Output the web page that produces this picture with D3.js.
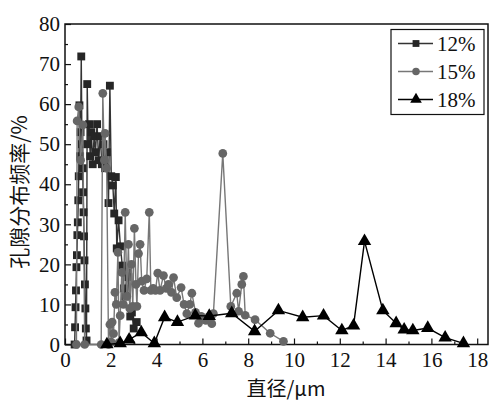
<!DOCTYPE html>
<html>
<head>
<meta charset="utf-8">
<script src="https://cdn.jsdelivr.net/npm/d3@7"></script>
<style>
  body { margin: 0; background: #fff; }
  svg text { font-family: "Liberation Serif", "Noto Sans CJK SC", serif; }
</style>
</head>
<body>
<div id="chart"></div>
<script>
// series values (diameter in um, frequency in %)
var x12 = [0.42,0.44,0.46,0.48,0.50,0.52,0.54,0.56,0.58,0.60,0.63,0.66,0.68,0.71,0.74,0.77,0.79,0.81,0.83,0.85,0.87,0.89,0.91,0.94,0.97,1.01,1.05,1.10,1.15,1.21,1.27,1.33,1.40,1.47,1.54,1.61,1.68,1.75,1.83,1.90,1.96,2.02,2.09,2.15,2.22,2.26,2.34,2.42,2.50,2.57,2.63,2.70,2.77,2.85,2.92,3.00,3.13];
var y12 = [0,4.3,9.3,13.5,19.3,22.3,27.3,30.5,36,42,59.7,47,53,71.9,50,44,38,33,27,21,15,9,4,1,65,50,55,47,53,45,52,48,55,46,52,45,50,44,48,35.3,64.6,42,39.7,32.7,41.8,24,31,24.5,19.7,14,12,18,16.8,7,8,4,5.6];

var x15 = [0.50,0.53,0.60,0.68,0.78,0.86,1.58,1.65,1.72,1.75,1.82,1.90,1.96,2.02,2.06,2.12,2.18,2.24,2.31,2.36,2.41,2.48,2.55,2.63,2.70,2.77,2.83,2.90,2.96,3.03,3.10,3.14,3.21,3.28,3.35,3.45,3.57,3.68,3.75,3.85,3.95,4.05,4.15,4.30,4.42,4.52,4.65,4.74,4.88,5.07,5.20,5.32,5.45,5.54,5.70,5.83,5.95,6.15,6.30,6.41,6.48,6.89,7.24,7.50,7.58,7.72,7.79,7.87,8.30,8.96,9.54];
var y15 = [0,55.8,59.3,46,54.8,0,0,62.7,46,52.7,44,0,5,0.6,5.6,2.7,13,10,23,0.5,7.2,18,10,33,12,25,9,20,9.5,29,15,9.5,22.7,25,15.8,13.5,16.4,33,13.5,14,13.5,17.8,13.5,17.2,14,15,13,16.7,11.7,14.2,10,7.7,10,12.8,8,5.3,7,6,7,5.2,7.7,47.7,9.5,12.8,8.3,15,17,7.3,6.2,2.8,0.8];

var x18 = [1.83,2.41,2.80,3.33,3.90,4.35,4.91,5.69,6.30,7.28,8.28,9.32,10.38,11.29,12.09,12.60,13.08,13.88,14.46,14.81,15.19,15.84,16.60,17.40];
var y18 = [0,0.3,1.2,3,0.3,6.8,5.6,7.2,7.1,7.8,3.3,8.5,6.8,7.2,3.5,4.7,25.8,8.5,5.3,3.7,3.5,4.1,1.7,0.3];

var seriesNames = ["12%", "15%", "18%"];
var xTicks = [0, 2, 4, 6, 8, 10, 12, 14, 16, 18];
var yTicks = [0, 10, 20, 30, 40, 50, 60, 70, 80];
var xLabel = "直径/μm";
var yLabel = "孔隙分布频率/%";

var width = 489, height = 401;
var pLeft = 65, pRight = 488, pTop = 24, pBottom = 344.5;

var svg = d3.select("#chart").append("svg")
    .attr("width", width)
    .attr("height", height);

var x = d3.scaleLinear().domain([0, (pRight - pLeft) / 22.9]).range([pLeft, pRight]);
var y = d3.scaleLinear().domain([0, 80]).range([pBottom, pTop]);

// minor ticks first (no labels)
svg.append("g")
    .attr("transform", "translate(0," + pBottom + ")")
    .call(d3.axisBottom(x).tickValues(d3.range(1, 19, 2)).tickSizeInner(-3).tickSizeOuter(0).tickFormat(""))
    .call(function (g) { g.select(".domain").remove(); });
svg.append("g")
    .attr("transform", "translate(" + pLeft + ",0)")
    .call(d3.axisLeft(y).tickValues(d3.range(5, 80, 10)).tickSizeInner(-3).tickSizeOuter(0).tickFormat(""))
    .call(function (g) { g.select(".domain").remove(); });

// major ticks with labels
var xAxis = svg.append("g")
    .attr("transform", "translate(0," + pBottom + ")")
    .call(d3.axisBottom(x).tickValues(xTicks).tickSizeInner(-6).tickSizeOuter(0).tickPadding(8));
xAxis.select(".domain").remove();
xAxis.selectAll("text").attr("font-size", 21).attr("fill", "#111").style("font-family", "Liberation Serif");

var yAxis = svg.append("g")
    .attr("transform", "translate(" + pLeft + ",0)")
    .call(d3.axisLeft(y).tickValues(yTicks).tickSizeInner(-6).tickSizeOuter(0).tickPadding(5));
yAxis.select(".domain").remove();
yAxis.selectAll("text").attr("font-size", 21).attr("fill", "#111").style("font-family", "Liberation Serif");

svg.selectAll(".tick line").attr("stroke", "#111").attr("stroke-width", 1.2);

// frame
svg.append("rect")
    .attr("x", pLeft).attr("y", pTop)
    .attr("width", pRight - pLeft).attr("height", pBottom - pTop)
    .attr("fill", "none").attr("stroke", "#111").attr("stroke-width", 1.5);

var line = d3.line().x(function (d) { return x(d[0]); }).y(function (d) { return y(d[1]); });

var series = [
    { name: seriesNames[0], data: d3.zip(x12, y12), color: "#262626", line: "#333", shape: d3.symbolSquare, size: 62 },
    { name: seriesNames[1], data: d3.zip(x15, y15), color: "#666", line: "#777", shape: d3.symbolCircle, size: 60 },
    { name: seriesNames[2], data: d3.zip(x18, y18), color: "#000", line: "#000", shape: d3.symbolTriangle, size: 78 }
];

var plot = svg.append("g");
series.forEach(function (s) {
    plot.append("path")
        .datum(s.data)
        .attr("d", line)
        .attr("fill", "none")
        .attr("stroke", s.line)
        .attr("stroke-width", 1.4);
    plot.selectAll(null)
        .data(s.data)
        .enter().append("path")
        .attr("transform", function (d) { return "translate(" + x(d[0]) + "," + y(d[1]) + ")"; })
        .attr("d", d3.symbol().type(s.shape).size(s.size))
        .attr("fill", s.color);
});

// legend
var lg = svg.append("g");
lg.append("rect")
    .attr("x", 391).attr("y", 29.5).attr("width", 93).attr("height", 85)
    .attr("fill", "#fff").attr("stroke", "#111").attr("stroke-width", 1.2);
series.forEach(function (s, i) {
    var cy = 43.5 + i * 28;
    lg.append("line")
        .attr("x1", 398).attr("x2", 433).attr("y1", cy).attr("y2", cy)
        .attr("stroke", s.line).attr("stroke-width", 1.4);
    lg.append("path")
        .attr("transform", "translate(416," + cy + ")")
        .attr("d", d3.symbol().type(s.shape).size(s.size * 0.75))
        .attr("fill", s.color);
    lg.append("text")
        .attr("x", 437).attr("y", cy + 7)
        .attr("font-size", 21).attr("fill", "#111")
        .text(s.name);
});

// axis titles
svg.append("text")
    .attr("x", 286).attr("y", 396)
    .attr("text-anchor", "middle")
    .attr("font-size", 20).attr("fill", "#111")
    .style("font-family", "Noto Sans CJK SC")
    .text(xLabel);

svg.append("text")
    .attr("transform", "translate(27,192) rotate(-90)")
    .attr("text-anchor", "middle")
    .attr("font-size", 21).attr("fill", "#111")
    .style("font-family", "Noto Sans CJK SC")
    .text(yLabel);
</script>
</body>
</html>
